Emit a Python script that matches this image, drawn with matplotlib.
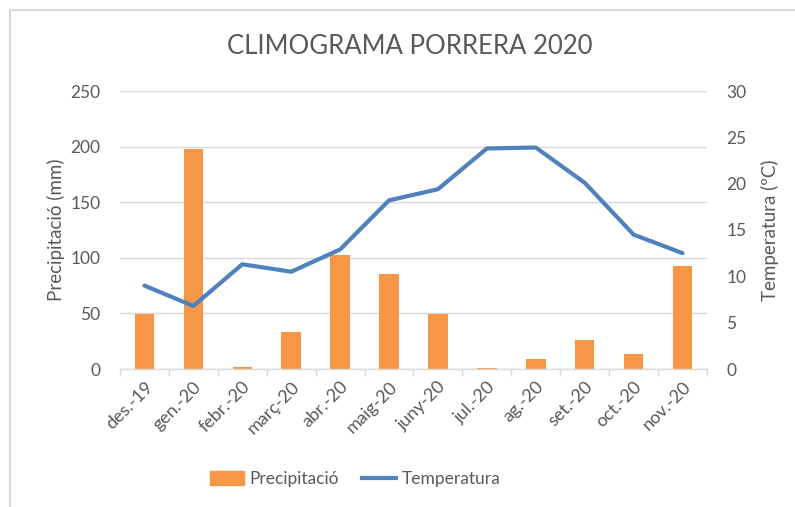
import matplotlib
matplotlib.use("Agg")
import matplotlib.pyplot as plt
from matplotlib.patches import Rectangle
from matplotlib.lines import Line2D
import numpy as np

months = ["des.-19", "gen.-20", "febr.-20", "març-20", "abr.-20", "maig-20",
          "juny-20", "jul.-20", "ag.-20", "set.-20", "oct.-20", "nov.-20"]
precip = [49.2, 197.7, 1.5, 33.0, 102.3, 85.3, 49.8, 1.0, 8.8, 26.0, 13.5, 92.6]
temp = [9.0, 6.8, 11.3, 10.5, 12.9, 18.2, 19.4, 23.8, 23.9, 20.1, 14.5, 12.5]
left_ticks = [0, 50, 100, 150, 200, 250]
right_ticks = [0, 5, 10, 15, 20, 25, 30]

plt.rcParams['font.family'] = ['Lato', 'DejaVu Sans']
GRAY = "#595959"
ORANGE = "#F79646"
BLUE = "#4F81BD"

fig = plt.figure(figsize=(7.95, 5.07), dpi=100)
W, H = 795, 507
ax = fig.add_axes([120 / W, 1 - 369 / H, (707 - 120) / W, (369 - 91) / H])
ax2 = ax.twinx()

x = np.arange(len(months))
ax.bar(x, precip, width=0.4, color=ORANGE, zorder=2)
ax2.plot(x, temp, color=BLUE, lw=3, solid_capstyle='round', zorder=3)

ax.set_xlim(-0.5, len(months) - 0.5)
ax.set_ylim(0, 250)
ax2.set_ylim(0, 30)
ax.set_yticks(left_ticks)
ax2.set_yticks(right_ticks)
ax.grid(axis='y', color="#d9d9d9", lw=1, zorder=0)
ax.set_axisbelow(True)

for a in (ax, ax2):
    for s in a.spines.values():
        s.set_visible(False)
ax.spines['bottom'].set_visible(True)
ax.spines['bottom'].set_color("#d9d9d9")
ax.spines['bottom'].set_linewidth(1)

ax.set_xticks(x)
ax.set_xticklabels(months, rotation=45, ha='right', rotation_mode='anchor',
                   fontsize=13, color=GRAY)
ax.tick_params(axis='x', length=0, pad=7)
ax.set_xticks(np.arange(-0.5, len(months) + 0.5, 1), minor=True)
ax.tick_params(axis='x', which='minor', length=5, color="#d9d9d9", width=1)
ax.tick_params(axis='y', length=0, labelsize=12.5, labelcolor=GRAY, pad=14)
ax2.tick_params(axis='y', length=0, labelsize=12.5, labelcolor=GRAY, pad=14)

ax.set_ylabel("Precipitació (mm)", fontsize=13.5, color=GRAY, labelpad=4)
ax2.set_ylabel("Temperatura (ºC)", fontsize=13.5, color=GRAY, labelpad=10)

fig.text(410 / W, 1 - 47 / H, "CLIMOGRAMA PORRERA 2020", ha='center', va='center',
         fontsize=18.5, color=GRAY)

handles = [Rectangle((0, 0), 1, 1, color=ORANGE),
           Line2D([0], [0], color=BLUE, lw=3)]
fig.legend(handles, ["Precipitació", "Temperatura"], loc='center',
           bbox_to_anchor=(355 / W, 1 - 479 / H), ncol=2, frameon=False,
           fontsize=12.5, labelcolor=GRAY, handlelength=2.0, handletextpad=0.3,
           columnspacing=1.3, handleheight=0.9)

fig.patches.append(Rectangle((10 / W, -0.1), 1.1, 1 - 10 / H + 0.1,
                             transform=fig.transFigure, fill=False,
                             edgecolor="#d9d9d9", lw=1.5))

fig.savefig("out.png", dpi=100)
